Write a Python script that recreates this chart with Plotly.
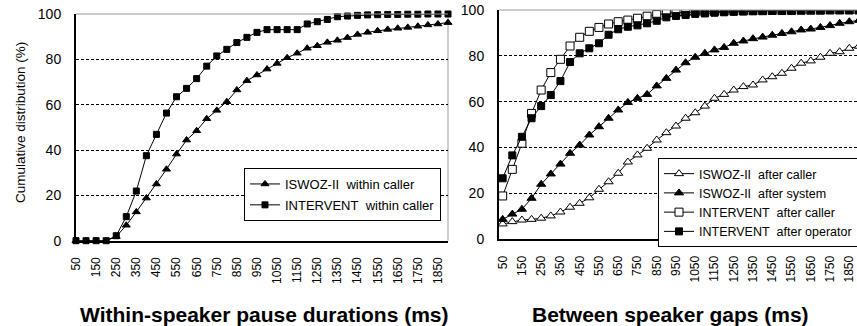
import plotly.graph_objects as go

# ---------------- data ----------------
x_ms = list(range(50, 1901, 50))  # 50 .. 1900 ms
tick_labels = [str(v) for v in range(50, 1851, 100)]

left_iswoz_within = [0, 0, 0, 0, 1.8, 6.8, 12.7, 18.8, 25, 31.5, 38.2, 44.4, 48.5, 53.8, 57.5,
                     61.3, 66.5, 70.6, 73.1, 75.7, 78.2, 80.7, 82.7, 84.9, 86, 87.5, 88.4, 89.6,
                     91, 91.9, 92.6, 93.2, 93.7, 94.1, 94.6, 95.2, 95.6, 96.2]
left_intervent_within = [0, 0, 0, 0, 2.2, 10.6, 21.9, 37.5, 46.9, 56.3, 63.5, 67.2, 71.5, 77, 81.5,
                         84.4, 87.4, 89.7, 91.9, 93.1, 93.1, 93.1, 93.1, 95.6, 96.6, 97.6, 98.8, 99.1,
                         99.4, 99.6, 99.7, 99.8, 99.8, 99.9, 99.9, 100, 100, 100]

right_iswoz_after_caller = [6.7, 7.7, 8.4, 8.7, 9.2, 10.2, 11.9, 14, 15.7, 18.1, 21.8, 25.1, 28.8, 33.7,
                            36.8, 39.7, 43.3, 46.5, 49.4, 52.8, 55.2, 58.1, 61.5, 63.2, 65.1, 66.6,
                            67.3, 69.5, 70.9, 72.4, 74.6, 76.8, 77.8, 79.4, 81.1, 81.8, 83.3, 84.2]
right_iswoz_after_system = [8.7, 11, 13.1, 17.9, 24, 28.5, 32.8, 37.5, 41.1, 45.5, 49.1, 52.8, 56.4,
                            59.7, 61.5, 63.2, 66.9, 70.2, 73.8, 77, 79.4, 81.1, 82.6, 83.7, 85.5,
                            86.5, 87.5, 88.2, 89, 89.8, 90.5, 91.3, 91.7, 92.4, 93.2, 94.2, 94.9, 95.5]
right_intervent_after_caller = [18.9, 30.5, 41.9, 54.9, 65.1, 72.7, 78.5, 84.3, 88.1, 90.7, 92.4, 93.9,
                                94.9, 95.6, 96.4, 97.3, 98, 98.6, 98.8, 99, 99.2, 99.3, 99.4, 99.5,
                                99.6, 99.6, 99.7, 99.7, 99.8, 99.8, 99.8, 99.9, 99.9, 99.9, 100, 100,
                                100, 100]
right_intervent_after_operator = [26.6, 36.6, 44.7, 52.8, 58.1, 62.9, 69, 77.3, 81.1, 83.3, 85.5, 89.2,
                                  91.6, 92.7, 93.3, 94.2, 95.3, 96.8, 97.4, 97.8, 98.3, 98.5, 98.8, 99,
                                  99.2, 99.4, 99.5, 99.6, 99.7, 99.7, 99.8, 99.8, 99.9, 99.9, 100, 100,
                                  100, 100]

y_ticks = [0, 20, 40, 60, 80, 100]

# ---------------- figure ----------------
W, H = 857, 326
FONT = "Arial, 'Liberation Sans', sans-serif"

def px_x(p):
    return p / W

def px_y(p):
    return 1 - p / H

fig = go.Figure()

def add(x, y, name, symbol, filled, size, xa, ya, legend, group):
    fig.add_trace(go.Scatter(
        x=x, y=y, name=name, mode="lines+markers",
        line=dict(color="black", width=1),
        marker=dict(symbol=symbol, size=size,
                    color="black" if filled else "white",
                    line=dict(color="black", width=1)),
        xaxis=xa, yaxis=ya, legend=legend, legendgroup=group,
        cliponaxis=False if xa == "x" else True,
    ))

add(x_ms, left_iswoz_within, "ISWOZ-II\u00a0 within caller", "triangle-up", True, 7, "x", "y", "legend", "a")
add(x_ms, left_intervent_within, "INTERVENT\u00a0 within caller", "square", True, 6, "x", "y", "legend", "b")

add(x_ms, right_iswoz_after_caller, "ISWOZ-II\u00a0 after caller", "triangle-up", False, 8, "x2", "y2", "legend2", "c")
add(x_ms, right_iswoz_after_system, "ISWOZ-II\u00a0 after system", "triangle-up", True, 8, "x2", "y2", "legend2", "d")
add(x_ms, right_intervent_after_caller, "INTERVENT\u00a0 after caller", "square", False, 8, "x2", "y2", "legend2", "e")
add(x_ms, right_intervent_after_operator, "INTERVENT\u00a0 after operator", "square", True, 7, "x2", "y2", "legend2", "f")

tickvals_x = [int(t) for t in tick_labels]

common_x = dict(
    tickmode="array", tickvals=tickvals_x, ticktext=tick_labels, tickangle=-90,
    tickfont=dict(family=FONT, size=12, color="black"),
    showgrid=False, zeroline=False, showline=True, linecolor="black", linewidth=1.5,
    ticks="", ticklabelstandoff=10, automargin=False,
)
common_y = dict(
    range=[0, 100], tickmode="array", tickvals=y_ticks,
    tickfont=dict(family=FONT, size=14, color="black"),
    showgrid=True, gridcolor="black", gridwidth=1, griddash="3px,2px",
    zeroline=False, showline=True, linecolor="black", linewidth=2,
    ticks="", ticklabelstandoff=10, automargin=False,
)

fig.update_layout(
    width=W, height=H,
    margin=dict(l=0, r=0, t=0, b=0, autoexpand=False),
    paper_bgcolor="white", plot_bgcolor="white",
    showlegend=True,
    xaxis=dict(domain=[px_x(76), px_x(448)], range=[50, 1900], anchor="y", **common_x),
    yaxis=dict(domain=[px_y(240.7), px_y(14)], anchor="x", **common_y),
    xaxis2=dict(domain=[px_x(499), 1.0], range=[31, 1890], anchor="y2", **common_x),
    yaxis2=dict(domain=[px_y(239.3), px_y(10)], anchor="x2", **common_y),
    legend=dict(x=px_x(244), y=px_y(168), xanchor="left", yanchor="top",
                bgcolor="white", bordercolor="black", borderwidth=1,
                font=dict(family=FONT, size=13, color="black"),
                itemwidth=30, tracegroupgap=1),
    legend2=dict(x=px_x(658), y=px_y(158), xanchor="left", yanchor="top",
                 bgcolor="white", bordercolor="black", borderwidth=1,
                 font=dict(family=FONT, size=12.5, color="black"),
                 itemwidth=30, tracegroupgap=0),
    annotations=[
        dict(text="Cumulative distribution (%)", x=px_x(20), y=px_y(123), xref="paper", yref="paper",
             textangle=-90, showarrow=False, font=dict(family=FONT, size=13.5, color="black"),
             xanchor="center", yanchor="middle"),
        dict(text="<b>Within-speaker pause durations (ms)</b>", x=px_x(264), y=px_y(314),
             xref="paper", yref="paper", showarrow=False,
             font=dict(family=FONT, size=21, color="black"), xanchor="center", yanchor="middle"),
        dict(text="<b>Between speaker gaps (ms)</b>", x=px_x(670), y=px_y(314),
             xref="paper", yref="paper", showarrow=False,
             font=dict(family=FONT, size=21, color="black"), xanchor="center", yanchor="middle"),
    ],
    shapes=[
        dict(type="line", xref="x domain", yref="y domain", x0=0, x1=1, y0=1, y1=1,
             line=dict(color="#9a9a9a", width=1), layer="above"),
        dict(type="line", xref="x domain", yref="y domain", x0=1, x1=1, y0=0, y1=1,
             line=dict(color="#9a9a9a", width=1), layer="below"),
        dict(type="line", xref="x2 domain", yref="y2 domain", x0=0, x1=1, y0=1, y1=1,
             line=dict(color="#9a9a9a", width=1), layer="above"),
    ],
)

fig.write_html(
    "out.html",
    config={"displayModeBar": False},
    post_script="document.body.style.margin='0';document.body.style.padding='0';"
                "document.body.style.overflow='hidden';",
)
